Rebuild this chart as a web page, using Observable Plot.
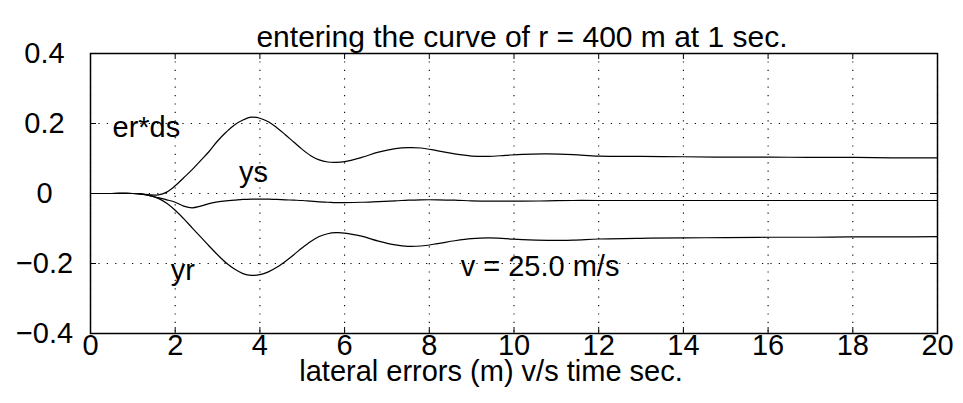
<!DOCTYPE html>
<html>
<head>
<meta charset="utf-8">
<script src="https://cdn.jsdelivr.net/npm/d3@7"></script>
<script src="https://cdn.jsdelivr.net/npm/@observablehq/plot@0.6"></script>
<style>
  html, body { margin: 0; padding: 0; background: #fff; }
</style>
</head>
<body>
<div id="chart"></div>
<script>
const time = [0, 0.5, 1.0, 1.2, 1.4, 1.6, 1.8, 2.0, 2.2, 2.4, 2.6, 2.8, 3.0, 3.2, 3.4, 3.6, 3.8, 4.0, 4.2, 4.4, 4.6, 4.8, 5.0, 5.2, 5.4, 5.6, 5.8, 6.0, 6.4, 6.8, 7.2, 7.5, 7.8, 8.2, 8.6, 9.0, 9.4, 9.8, 10.2, 10.8, 11.4, 12, 13, 14, 15, 16, 17, 18, 19, 20];
const erds = [0, 0, 0, -0.001, -0.004, -0.004, 0.004, 0.022, 0.045, 0.068, 0.094, 0.12, 0.15, 0.175, 0.196, 0.21, 0.218, 0.215, 0.205, 0.188, 0.168, 0.147, 0.126, 0.108, 0.096, 0.09, 0.089, 0.091, 0.103, 0.118, 0.128, 0.131, 0.13, 0.122, 0.113, 0.107, 0.106, 0.109, 0.112, 0.113, 0.111, 0.107, 0.106, 0.105, 0.104, 0.104, 0.103, 0.103, 0.102, 0.102];
const ys = [0, 0, 0, -0.002, -0.006, -0.012, -0.018, -0.025, -0.036, -0.041, -0.036, -0.029, -0.024, -0.021, -0.019, -0.017, -0.016, -0.016, -0.016, -0.017, -0.018, -0.019, -0.02, -0.022, -0.024, -0.025, -0.026, -0.026, -0.025, -0.023, -0.021, -0.019, -0.018, -0.018, -0.019, -0.021, -0.022, -0.022, -0.022, -0.021, -0.02, -0.02, -0.02, -0.02, -0.02, -0.02, -0.02, -0.02, -0.02, -0.02];
const yr = [0, 0, 0, -0.002, -0.006, -0.014, -0.028, -0.048, -0.072, -0.098, -0.124, -0.15, -0.175, -0.198, -0.216, -0.229, -0.234, -0.232, -0.224, -0.211, -0.194, -0.175, -0.155, -0.137, -0.123, -0.115, -0.112, -0.113, -0.122, -0.136, -0.147, -0.151, -0.15, -0.143, -0.135, -0.129, -0.127, -0.129, -0.132, -0.134, -0.133, -0.13, -0.128, -0.127, -0.126, -0.125, -0.125, -0.124, -0.124, -0.123];

const xTicks = [0, 2, 4, 6, 8, 10, 12, 14, 16, 18, 20];
const yTicks = [-0.4, -0.2, 0, 0.2, 0.4];

// curve annotations: left-anchored and centred groups
const startLabelText = ["er*ds", "v = 25.0 m/s"];
const startLabelX = [0.52, 8.74];
const startLabelY = [0.189, -0.21];
const midLabelText = ["ys", "yr"];
const midLabelX = [3.85, 2.18];
const midLabelY = [0.06, -0.22];

const titleText = "entering the curve of r = 400 m at 1 sec.";
const xLabelText = "lateral errors (m) v/s time sec.";

const series = [
  {name: "er*ds", values: erds},
  {name: "ys", values: ys},
  {name: "yr", values: yr}
];
const rows = series.flatMap(s => time.map((t, i) => ({t, v: s.values[i], name: s.name})));
const startLabels = startLabelText.map((text, i) => ({text, x: startLabelX[i], y: startLabelY[i]}));
const midLabels = midLabelText.map((text, i) => ({text, x: midLabelX[i], y: midLabelY[i]}));

const fmtY = d => d === 0 ? "0" : (d < 0 ? "\u2212" : "") + Math.abs(d);

const FONT = 29;
const chart = Plot.plot({
  width: 963,
  height: 403,
  marginLeft: 90,
  marginRight: 26,
  marginTop: 53,
  marginBottom: 70,
  style: {fontFamily: "'Liberation Sans', Arial, Helvetica, sans-serif", fontSize: FONT + "px", background: "#fff", color: "#000"},
  x: {domain: [0, 20]},
  y: {domain: [-0.4, 0.4]},
  marks: [
    Plot.gridX(xTicks, {stroke: "#000", strokeOpacity: 1, strokeWidth: 1.1, strokeDasharray: "1.2,7.2"}),
    Plot.gridY(yTicks, {stroke: "#000", strokeOpacity: 1, strokeWidth: 1.1, strokeDasharray: "1.2,7.2"}),
    Plot.tickX(xTicks, {x: d => d, insetTop: 274, stroke: "#000", strokeWidth: 1}),
    Plot.tickX(xTicks, {x: d => d, insetBottom: 274, stroke: "#000", strokeWidth: 1}),
    Plot.tickY(yTicks, {y: d => d, insetRight: 841, stroke: "#000", strokeWidth: 1}),
    Plot.tickY(yTicks, {y: d => d, insetLeft: 841, stroke: "#000", strokeWidth: 1}),
    Plot.frame({stroke: "#000", strokeWidth: 1.5}),
    Plot.axisX({ticks: xTicks, tickSize: 0, tickPadding: 1, tickFormat: d => String(d), fontSize: FONT, label: null}),
    Plot.axisY({ticks: yTicks, tickSize: 0, tickPadding: 46, textAnchor: "middle", tickFormat: fmtY, fontSize: FONT, label: null}),
    Plot.line(rows, {x: "t", y: "v", z: "name", stroke: "#000", strokeWidth: 1.2, curve: "catmull-rom"}),
    Plot.text(startLabels, {x: "x", y: "y", text: "text", textAnchor: "start", fontSize: FONT, fill: "#000"}),
    Plot.text(midLabels, {x: "x", y: "y", text: "text", textAnchor: "middle", fontSize: FONT, fill: "#000"}),
    Plot.text([titleText], {text: d => d, frameAnchor: "top", dy: -28, dx: 8, fontSize: 30, fill: "#000"}),
    Plot.text([xLabelText], {text: d => d, frameAnchor: "bottom", dy: 47, dx: -23, fontSize: FONT, fill: "#000"})
  ]
});
document.getElementById("chart").appendChild(chart);
</script>
</body>
</html>
